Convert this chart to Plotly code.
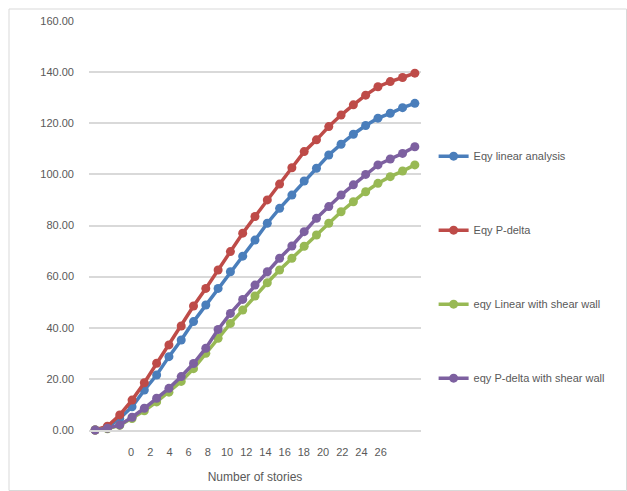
import plotly.graph_objects as go

# Storey index (one point per level)
stories = list(range(27))

# Category labels shown along the bottom axis
story_labels = list(range(0, 27, 2))

eqy_linear = [0, 1.0, 4.5, 9.1, 15.6, 21.5, 28.7, 35.2, 42.4, 48.9, 55.4, 61.9, 68.0, 74.3,
              80.9, 86.7, 91.9, 97.4, 102.4, 107.6, 111.8, 115.7, 119.1, 122.0, 123.9, 126.1, 127.8]
eqy_pdelta = [0, 1.5, 5.9, 11.7, 18.5, 26.1, 33.3, 40.7, 48.5, 55.4, 62.6, 69.8, 77.0, 83.5,
              90.0, 96.2, 102.6, 108.9, 113.5, 118.7, 123.2, 127.2, 131.0, 134.3, 136.3, 137.9, 139.6]
eqy_linear_wall = [0, 0.5, 1.8, 4.5, 7.5, 11.0, 14.8, 19.0, 24.0, 30.0, 35.9, 41.7, 46.9, 52.4,
                   57.6, 62.6, 67.2, 71.9, 76.3, 80.9, 85.4, 89.3, 93.2, 96.5, 99.1, 101.3, 103.7]
eqy_pdelta_wall = [0, 0.7, 2.0, 5.0, 8.5, 12.4, 16.3, 20.9, 26.0, 32.0, 39.3, 45.6, 51.1, 56.7,
                   61.9, 67.2, 72.0, 77.6, 82.8, 87.4, 91.9, 95.9, 100.0, 103.7, 106.0, 108.2, 110.8]

y_ticks = [0, 20, 40, 60, 80, 100, 120, 140, 160]

series = [
    ("Eqy linear analysis", eqy_linear, "#4A7EBB"),
    ("Eqy P-delta", eqy_pdelta, "#BE4B48"),
    ("eqy Linear with shear wall", eqy_linear_wall, "#98B954"),
    ("eqy P-delta with shear wall", eqy_pdelta_wall, "#7D60A0"),
]

FONT = "Liberation Sans"
GREY = "#595959"

fig = go.Figure()
for i, (name, vals, color) in enumerate(series):
    fig.add_trace(go.Scatter(
        x=stories, y=vals, name=name, mode="lines+markers",
        line=dict(color=color, width=3.5),
        marker=dict(color=color, size=9, symbol="circle"),
        legendgroup=f"g{i}", cliponaxis=False,
    ))

# empty trace that carries the labelled category axis
fig.add_trace(go.Scatter(
    x=story_labels, y=[None] * len(story_labels), xaxis="x2", yaxis="y",
    mode="markers", showlegend=False, hoverinfo="skip",
))

fig.update_layout(
    width=627, height=491,
    margin=dict(l=89, r=206, t=21, b=61),
    paper_bgcolor="white", plot_bgcolor="white",
    font=dict(family=FONT, size=11, color=GREY),
    showlegend=True,
    legend=dict(
        x=1.038, xanchor="left", y=0.705, yanchor="top",
        tracegroupgap=55, font=dict(size=11, color=GREY),
        bgcolor="rgba(0,0,0,0)", itemwidth=30,
    ),
    xaxis=dict(
        range=[-0.5, 26.5], showticklabels=False, ticks="", showgrid=False,
        zeroline=False, showline=True, linecolor="#D9D9D9", linewidth=1.5,
        title=dict(text="Number of stories", font=dict(size=12, color=GREY), standoff=42),
    ),
    xaxis2=dict(
        overlaying="x", anchor="y", side="bottom",
        range=[-4.38, 30.2], tickvals=story_labels, ticktext=[str(v) for v in story_labels],
        showgrid=False, zeroline=False, showline=False, ticks="",
        ticklabelstandoff=14, tickfont=dict(size=11, color=GREY),
    ),
    yaxis=dict(
        range=[0, 160], tickvals=y_ticks, ticktext=[f"{v:.2f}" for v in y_ticks],
        showgrid=True, gridcolor="#D9D9D9", gridwidth=1.5, zeroline=False,
        showline=False, ticks="", ticklabelstandoff=14,
        tickfont=dict(size=11, color=GREY),
    ),
    shapes=[dict(
        type="rect", xref="paper", yref="paper",
        x0=(9 - 89) / 332, x1=(626.5 - 89) / 332,
        y0=(430 - 490.5) / 409, y1=(430 - 9) / 409,
        line=dict(color="#D9D9D9", width=1), fillcolor="rgba(0,0,0,0)", layer="below",
    )],
)

fig.write_html("out.html")
